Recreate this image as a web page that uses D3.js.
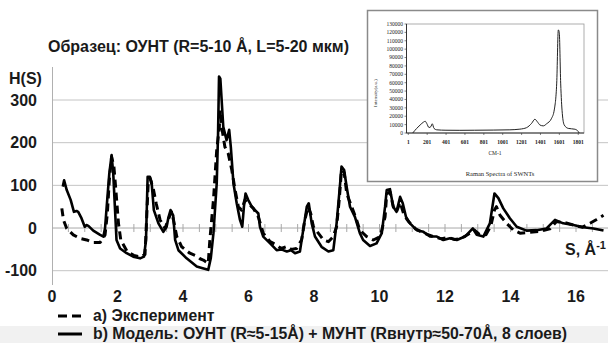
<!DOCTYPE html>
<html><head><meta charset="utf-8">
<script src="https://cdn.jsdelivr.net/npm/d3@7/dist/d3.min.js"></script>
<style>body{margin:0;background:#fff}svg{display:block}</style>
</head><body><svg id="c" width="608" height="343"></svg>
<script>
// ---- Main chart data ----
const sModel = [0.33,0.37,0.45,0.57,0.67,0.75,0.8,0.9,1.0,1.05,1.11,1.26,1.47,1.57,1.62,1.67,1.75,1.82,1.87,1.92,1.97,2.08,2.28,2.48,2.69,2.81,2.87,2.92,2.99,3.04,3.11,3.25,3.4,3.5,3.55,3.62,3.7,3.76,3.86,4.11,4.42,4.6,4.77,4.85,4.93,5.03,5.07,5.1,5.14,5.18,5.23,5.33,5.41,5.46,5.54,5.64,5.74,5.81,5.86,5.91,5.99,6.1,6.2,6.3,6.35,6.45,6.66,6.86,7.0,7.17,7.3,7.42,7.57,7.67,7.78,7.84,7.93,8.03,8.23,8.44,8.59,8.69,8.79,8.84,8.92,9.0,9.1,9.25,9.4,9.5,9.71,9.91,10.07,10.17,10.22,10.32,10.42,10.52,10.63,10.71,10.81,10.93,11.14,11.34,11.54,11.75,11.95,12.15,12.36,12.61,12.85,12.97,13.17,13.37,13.51,13.63,13.78,13.98,14.19,14.49,14.8,15.1,15.36,15.61,15.92,16.22,16.53,16.84];
const hModel = [97,112,89,66,38,40,38,23,3,7,5,-6,-16,-20,0,50,128,171,128,50,-28,-48,-59,-67,-71,-67,-28,120,120,108,42,11,-9,3,23,42,30,-28,-52,-71,-90,-94,-98,-70,-12,105,220,355,350,300,237,206,230,190,105,58,19,3,50,81,66,50,42,34,3,-20,-36,-52,-50,-55,-52,-59,-55,-5,50,58,11,-20,-44,-55,-52,11,97,144,136,95,50,26,-12,-28,-42,-36,-12,50,89,91,50,38,73,58,26,11,-5,-9,-20,-20,-28,-24,-28,-20,-1,-16,-20,11,81,70,46,23,3,-6,-5,-1,19,11,7,2,-1,-6];
const sExp = [0.3,0.35,0.45,0.65,0.85,1.06,1.26,1.47,1.62,1.69,1.75,1.82,1.89,1.95,2.03,2.1,2.3,2.5,2.7,2.84,2.9,2.94,2.99,3.09,3.18,3.3,3.45,3.55,3.65,3.72,3.81,3.96,4.21,4.42,4.52,4.62,4.72,4.77,4.82,4.93,5.03,5.11,5.13,5.18,5.28,5.38,5.49,5.59,5.69,5.79,5.89,5.99,6.15,6.3,6.45,6.66,6.86,7.0,7.17,7.3,7.47,7.62,7.72,7.82,7.9,7.98,8.13,8.29,8.44,8.59,8.69,8.77,8.84,8.92,9.0,9.15,9.3,9.4,9.61,9.81,10.02,10.17,10.22,10.32,10.42,10.52,10.63,10.75,10.9,11.1,11.3,11.5,11.7,11.9,12.1,12.3,12.5,12.7,12.9,13.05,13.25,13.4,13.51,13.57,13.68,13.88,14.09,14.29,14.6,14.9,15.2,15.4,15.7,16.0,16.2,16.43,16.63,16.84];
const hExp = [46,19,-1,-16,-24,-28,-34,-34,-16,34,112,167,144,89,11,-28,-56,-64,-68,-62,40,110,117,93,58,19,-1,20,38,15,-20,-44,-59,-66,-72,-75,-80,-83,-28,66,183,237,276,237,190,175,136,89,50,42,66,58,46,26,-12,-32,-40,-48,-43,-50,-48,-28,19,50,34,3,-12,-28,-32,-20,3,66,136,130,81,50,19,-5,-20,-28,-20,26,80,85,50,38,60,30,14,-2,-10,-16,-22,-25,-22,-27,-24,-15,-5,-15,-16,5,42,50,30,11,-5,-12,-10,-8,-2,15,12,5,2,11,20,30];
const xTicks = [0,2,4,6,8,10,12,14,16];
const yTicks = [-100,0,100,200,300];
const titleText = "Образец: ОУНТ (R=5-10 Å, L=5-20 мкм)";
const legendLabels = ["a) Эксперимент", "b) Модель: ОУНТ (R≈5-15Å) + МУНТ (Rвнутр≈50-70Å, 8 слоев)"];

// ---- Inset data (Raman spectrum) ----
const ramanX = [48,90,126,162,180,196,220,240,255,273,302,400,547,700,900,1077,1183,1254,1307,1342,1367,1396,1431,1466,1519,1547,1573,1590,1600,1615,1632,1653,1695,1766,1801,1811];
const ramanI = [0,5500,9500,13000,14000,11500,6500,7600,11000,5500,3800,3300,3200,3300,3500,3800,4600,6400,11500,16400,13500,9500,8500,11000,17600,27500,59500,123000,120000,59500,23500,9500,5500,4500,1800,0];
const ramanYTicks = d3.range(0, 130001, 10000);
const ramanXTicks = [1,201,401,601,801,1001,1201,1401,1601,1801];

const svg = d3.select("#c");
const bold = "'Liberation Sans', Arial, sans-serif";
const ink = "#1a1a1a";

// bottom gray band
svg.append("rect").attr("x",0).attr("y",326).attr("width",608).attr("height",17).attr("fill","#f1f1f1");

const x = d3.scaleLinear().domain([0,17]).range([52, 52+17*32.75]);
const y = d3.scaleLinear().domain([-100,300]).range([270.7,100]);

// gridlines
svg.append("g").selectAll("line").data(yTicks.filter(d=>d!==0)).join("line")
  .attr("x1",52).attr("x2",608).attr("y1",d=>y(d)).attr("y2",d=>y(d))
  .attr("stroke","#c4c4c4").attr("stroke-width",1);
// vertical axis
svg.append("line").attr("x1",52.5).attr("x2",52.5).attr("y1",67).attr("y2",285).attr("stroke","#b0b0b0");
// zero axis with minor ticks
svg.append("line").attr("x1",52).attr("x2",608).attr("y1",y(0)).attr("y2",y(0)).attr("stroke","#a8a8a8");
svg.append("g").selectAll("line").data(d3.range(0.5,17,0.5)).join("line")
  .attr("x1",d=>x(d)).attr("x2",d=>x(d)).attr("y1",y(0)-4).attr("y2",y(0)+4).attr("stroke","#a8a8a8");

// y tick labels
svg.append("g").selectAll("text").data(yTicks).join("text")
  .attr("x",37).attr("y",d=>y(d)).attr("dy","0.35em").attr("text-anchor","end")
  .attr("font-family",bold).attr("font-weight","bold").attr("font-size",16).attr("fill",ink).text(d=>d);
svg.append("text").attr("x",9).attr("y",78).attr("dy","0.35em")
  .attr("font-family",bold).attr("font-weight","bold").attr("font-size",16).attr("fill",ink).text("H(S)");
// x tick labels
svg.append("g").selectAll("text").data(xTicks).join("text")
  .attr("x",d=>x(d)).attr("y",296).attr("dy","0.35em").attr("text-anchor","middle")
  .attr("font-family",bold).attr("font-weight","bold").attr("font-size",16).attr("fill",ink).text(d=>d);
// S label
const sl = svg.append("text").attr("x",565).attr("y",255)
  .attr("font-family",bold).attr("font-weight","bold").attr("font-size",16).attr("fill",ink);
sl.append("tspan").text("S, Å");
sl.append("tspan").attr("font-size",11).attr("dy",-6).text("-1");

// title
svg.append("text").attr("x",48).attr("y",52)
  .attr("font-family",bold).attr("font-weight","bold").attr("font-size",16).attr("fill",ink).text(titleText);

// curves
const line = d3.line().x(d=>x(d[0])).y(d=>y(d[1]));
svg.append("path").datum(sExp.map((s,i)=>[s,hExp[i]])).attr("d",line)
  .attr("fill","none").attr("stroke","#000").attr("stroke-width",3).attr("stroke-dasharray","8,5").attr("stroke-linejoin","round");
svg.append("path").datum(sModel.map((s,i)=>[s,hModel[i]])).attr("d",line)
  .attr("fill","none").attr("stroke","#000").attr("stroke-width",2.6).attr("stroke-linejoin","round");

// legend
const lg = svg.append("g");
lg.append("line").attr("x1",58).attr("x2",82).attr("y1",316).attr("y2",316).attr("stroke","#000").attr("stroke-width",3).attr("stroke-dasharray","9,5");
lg.append("line").attr("x1",58).attr("x2",82).attr("y1",334).attr("y2",334).attr("stroke","#000").attr("stroke-width",3);
lg.selectAll("text").data(legendLabels).join("text")
  .attr("x",93).attr("y",(d,i)=>321+i*18).attr("font-size",15.8)
  .attr("font-family",bold).attr("font-weight","bold").attr("fill",ink).text(d=>d);

// ---- inset ----
const ins = svg.append("g");
ins.append("rect").attr("x",367.5).attr("y",10.5).attr("width",230).attr("height",171)
  .attr("fill","#fff").attr("stroke","#8a8a8a").attr("stroke-width",1.5);
const rx = d3.scaleLinear().domain([1,1862]).range([408.3,584]);
const ry = d3.scaleLinear().domain([0,130000]).range([133,24]);
ins.append("rect").attr("x",406.5).attr("y",24).attr("width",177.5).attr("height",109)
  .attr("fill","none").attr("stroke","#9a9a9a").attr("stroke-width",0.8);
ins.append("line").attr("x1",406.5).attr("x2",406.5).attr("y1",24).attr("y2",133).attr("stroke","#333");
ins.append("line").attr("x1",406.5).attr("x2",584).attr("y1",133).attr("y2",133).attr("stroke","#333");
const serif = "'Liberation Serif','Times New Roman',serif";
ins.append("g").selectAll("text").data(ramanYTicks).join("text")
  .attr("x",403).attr("y",d=>ry(d)).attr("dy","0.35em").attr("text-anchor","end")
  .attr("font-family",serif).attr("font-size",5.5).attr("fill","#222").text(d=>d);
ins.append("g").selectAll("line").data(ramanYTicks).join("line")
  .attr("x1",404.5).attr("x2",406.5).attr("y1",d=>ry(d)).attr("y2",d=>ry(d)).attr("stroke","#333").attr("stroke-width",0.6);
ins.append("g").selectAll("text").data(ramanXTicks).join("text")
  .attr("x",d=>rx(d)).attr("y",142).attr("dy","0.35em").attr("text-anchor","middle")
  .attr("font-family",serif).attr("font-weight","bold").attr("font-size",5.5).attr("fill","#222").text(d=>d);
ins.append("g").selectAll("line").data(ramanXTicks).join("line")
  .attr("x1",d=>rx(d)).attr("x2",d=>rx(d)).attr("y1",133).attr("y2",135).attr("stroke","#333").attr("stroke-width",0.6);
ins.append("text").attr("x",495).attr("y",153).attr("dy","0.35em").attr("text-anchor","middle")
  .attr("font-family",serif).attr("font-size",5.5).attr("fill","#222").text("CM-1");
ins.append("text").attr("x",500).attr("y",174).attr("dy","0.35em").attr("text-anchor","middle")
  .attr("font-family",serif).attr("font-size",6.5).attr("fill","#222").text("Raman Spectra of  SWNTs");
ins.append("text").attr("transform","translate(375,93) rotate(-90)").attr("dy","0.35em").attr("text-anchor","middle")
  .attr("font-family",serif).attr("font-size",5).attr("fill","#222").text("Intensity(a.u.)");
const rline = d3.line().x(d=>rx(d[0])).y(d=>ry(d[1])).curve(d3.curveMonotoneX);
ins.append("path").datum(ramanX.map((v,i)=>[v,ramanI[i]])).attr("d",rline)
  .attr("fill","none").attr("stroke","#222").attr("stroke-width",1);
</script></body></html>
